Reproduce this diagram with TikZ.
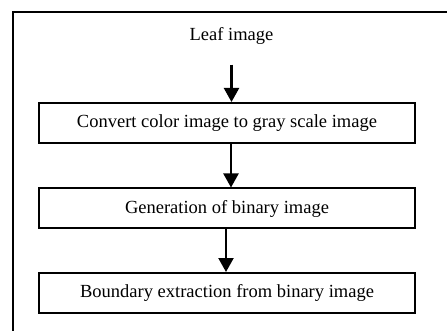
\documentclass[tikz,border=0pt]{standalone}
\usepackage{fontspec}
\setmainfont{Liberation Serif}
\usetikzlibrary{arrows.meta}
\begin{document}
\begin{tikzpicture}[x=1pt,y=-1pt,
  stagebox/.style={draw,line width=2pt,minimum width=376pt,minimum height=40pt,
    inner sep=0pt,font=\fontsize{18.5}{20}\selectfont},
  flow/.style={line width=2.2pt,-{Triangle[length=14pt,width=15pt]}},
  frameline/.style={line width=2pt}]
\useasboundingbox (0,0) rectangle (447,331);
% open frame: top and left edges only
\draw[frameline] (447,12.5) -- (12.5,12.5) -- (12.5,331);
% input label
\node[font=\fontsize{18.5}{20}\selectfont,inner sep=0pt] (leaf) at (231.5,36) {Leaf image};
% processing stages
\node[stagebox] (s1) at (227,123) {Convert color image to gray scale image};
\node[stagebox] (s2) at (227,208.5) {Generation of binary image};
\node[stagebox] (s3) at (227,293) {Boundary extraction from binary image};
% flow arrows
\draw[flow] ([yshift=-20pt]leaf.south) -- (s1.north -| leaf.south);
\draw[flow] ([xshift=4pt]s1.south) -- ([xshift=4pt]s2.north);
\draw[flow] ([xshift=-1pt]s2.south) -- ([xshift=-1pt]s3.north);
\end{tikzpicture}
\end{document}
